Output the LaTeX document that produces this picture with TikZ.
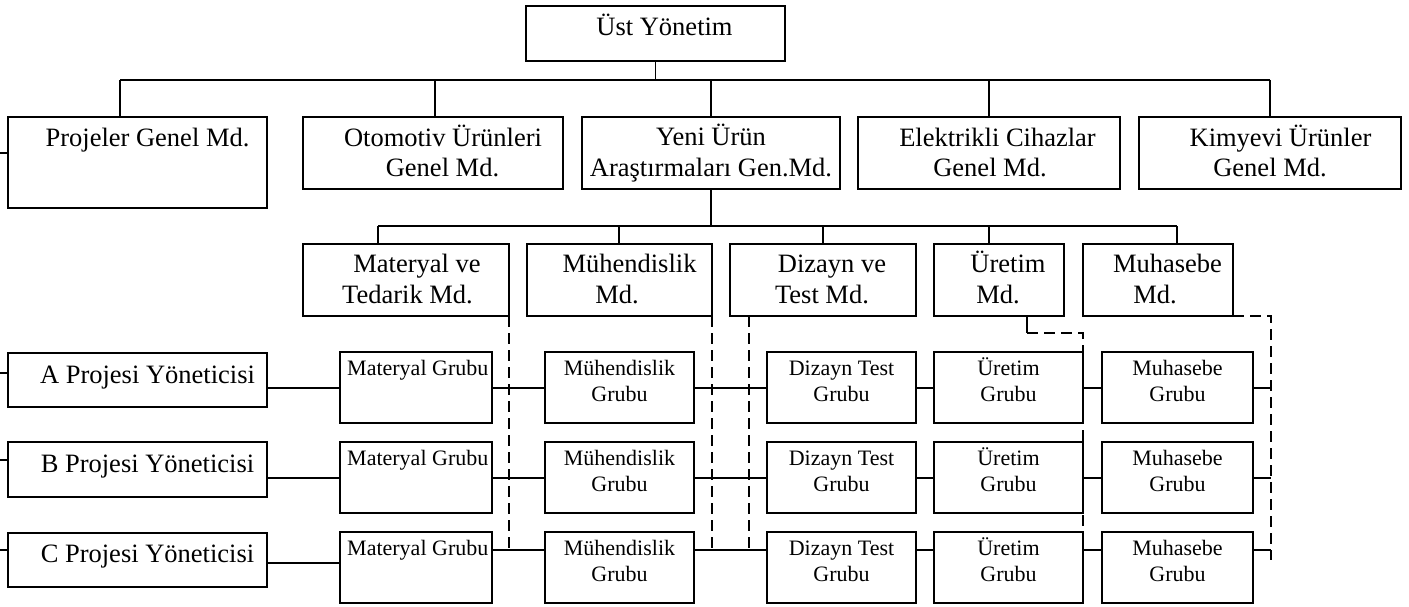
\documentclass[tikz,border=0pt]{standalone}
\usepackage{fontspec}
\setmainfont{Liberation Serif}
\begin{document}
\begin{tikzpicture}[x=1pt,y=-1pt,
  box/.style={draw,line width=1.7pt,inner sep=0pt,outer sep=0pt},
  ln/.style={line width=1.7pt},
  dsh/.style={line width=1.7pt,dash pattern=on 11pt off 6pt},
  big/.style={inner sep=0pt,anchor=base,font=\fontsize{26.5}{32}\selectfont},
  small/.style={inner sep=0pt,anchor=base,font=\fontsize{22}{26}\selectfont}]
\useasboundingbox (0,0) rectangle (1409,607);

% rectangle from (x1,y1) to (x2,y2)
\newcommand\orgbox[5]{\node[box,minimum width={(#4-#2)*1pt},minimum height={(#5-#3)*1pt}] (#1) at ({(#2+#4)/2},{(#3+#5)/2}) {};}

% top level
\orgbox{top}{526}{6}{785}{61}
\node[big] (ttop) at (664.5,36) {Üst Yönetim};

% general directorates
\orgbox{proj}{8}{117}{267}{208}
\orgbox{oto}{303}{117}{563}{189}
\orgbox{yeni}{582}{117}{840}{189}
\orgbox{elek}{858}{117}{1120}{189}
\orgbox{kim}{1139}{117}{1401}{189}
\node[big] (tproj) at (147.5,147) {Projeler Genel Md.};
\node[big] (toto1) at (443,147) {Otomotiv Ürünleri};
\node[big] (toto2) at (442.5,177) {Genel Md.};
\node[big] (tyeni1) at (711,146) {Yeni Ürün};
\node[big] (tyeni2) at (711,177) {Araştırmaları Gen.Md.};
\node[big] (telek1) at (997.5,147) {Elektrikli Cihazlar};
\node[big] (telek2) at (990,177) {Genel Md.};
\node[big] (tkim1) at (1280.5,147) {Kimyevi Ürünler};
\node[big] (tkim2) at (1270,177) {Genel Md.};

% departments
\orgbox{mat}{303}{244}{509}{316}
\orgbox{muh}{527}{244}{712}{316}
\orgbox{diz}{730}{244}{916}{316}
\orgbox{ure}{934}{244}{1064}{316}
\orgbox{mhs}{1083}{244}{1233}{316}
\node[big] (tmat1) at (417,272) {Materyal ve};
\node[big] (tmat2) at (407.5,303) {Tedarik Md.};
\node[big] (tmuh1) at (629.5,272) {Mühendislik};
\node[big] (tmuh2) at (617,303) {Md.};
\node[big] (tdiz1) at (832,272) {Dizayn ve};
\node[big] (tdiz2) at (822,303) {Test Md.};
\node[big] (ture1) at (1008,272) {Üretim};
\node[big] (ture2) at (998,303) {Md.};
\node[big] (tmhs1) at (1167.5,272) {Muhasebe};
\node[big] (tmhs2) at (1155,303) {Md.};

% project managers
\orgbox{pA}{8}{353}{267}{407}
\orgbox{pB}{8}{442}{267}{497}
\orgbox{pC}{8}{533}{267}{587}
\node[big] (tpA) at (147.5,383) {A Projesi Yöneticisi};
\node[big] (tpB) at (147.5,472) {B Projesi Yöneticisi};
\node[big] (tpC) at (147.5,562) {C Projesi Yöneticisi};

% working groups, one row per project
\foreach \r/\ya in {A/352,B/442,C/532}{
  \pgfmathsetmacro\yb{\ya+71}
  \orgbox{m\r}{340}{\ya}{492}{\yb}
  \orgbox{g\r}{545}{\ya}{694}{\yb}
  \orgbox{d\r}{767}{\ya}{916}{\yb}
  \orgbox{u\r}{934}{\ya}{1083}{\yb}
  \orgbox{h\r}{1102}{\ya}{1253}{\yb}
  \pgfmathsetmacro\yl{\ya+23}
  \pgfmathsetmacro\ym{\ya+49}
  \node[small,anchor=base west] (tm\r) at (347,\yl) {Materyal Grubu};
  \node[small] (tg\r a) at (619.5,\yl) {Mühendislik};
  \node[small] (tg\r b) at (619.5,\ym) {Grubu};
  \node[small] (td\r a) at (841.5,\yl) {Dizayn Test};
  \node[small] (td\r b) at (841.5,\ym) {Grubu};
  \node[small] (tu\r a) at (1008.5,\yl) {Üretim};
  \node[small] (tu\r b) at (1008.5,\ym) {Grubu};
  \node[small] (th\r a) at (1177.5,\yl) {Muhasebe};
  \node[small] (th\r b) at (1177.5,\ym) {Grubu};
}

% upper tree
\coordinate (d1) at (120,80);
\coordinate (d2) at (435,80);
\coordinate (d4) at (989,80);
\coordinate (d5) at (1270,80);
\draw[ln] (top.south) -- (top.south |- d1);
\draw[ln] (d1) -- (d5);
\draw[ln] (d1) -- (d1 |- proj.north);
\draw[ln] (d2) -- (d2 |- oto.north);
\draw[ln] (yeni.north |- d1) -- (yeni.north);
\draw[ln] (d4) -- (d4 |- elek.north);
\draw[ln] (d5) -- (d5 |- kim.north);

\coordinate (e1) at (378,226);
\coordinate (e2) at (619,226);
\coordinate (e3) at (823,226);
\coordinate (e4) at (989,226);
\coordinate (e5) at (1177,226);
\draw[ln] (yeni.south) -- (yeni.south |- e1);
\draw[ln] (e1) -- (e5);
\draw[ln] (e1) -- (e1 |- mat.north);
\draw[ln] (e2) -- (e2 |- muh.north);
\draw[ln] (e3) -- (e3 |- diz.north);
\draw[ln] (e4) -- (e4 |- ure.north);
\draw[ln] (e5) -- (e5 |- mhs.north);

% stubs on the left edge
\coordinate (s0) at (0,153);
\coordinate (sA) at (0,373);
\coordinate (sB) at (0,460);
\coordinate (sC) at (0,550);
\draw[ln] (s0) -- (s0 -| proj.west);
\draw[ln] (sA) -- (sA -| pA.west);
\draw[ln] (sB) -- (sB -| pB.west);
\draw[ln] (sC) -- (sC -| pC.west);

% dashed staff lines
\coordinate (hline) at (1271,316);
\coordinate (dend) at (0,548);
\draw[dsh] (mat.south east) -- (mat.south east |- dend);
\draw[dsh] (muh.south east) -- (muh.south east |- dend);
\draw[dsh] ([xshift=19pt]diz.south west) -- ([xshift=19pt]diz.south west |- dend);
\coordinate (uk) at (1027,333);
\draw[ln] (uk |- ure.south) -- (uk);
\coordinate (uend) at (1083,550);
\draw[dsh] (uk) -| (uend);
\coordinate (hend) at (1271,560);
\draw[dsh] (mhs.south east) -- (hline) -- (hend);

% row connectors
\foreach \r/\y/\yp in {A/388/388,B/478/478,C/550/563}{
  \coordinate (rr) at (0,\y);
  \coordinate (rp) at (0,\yp);
  \draw[ln] (p\r.east |- rp) -- (m\r.west |- rp);
  \draw[ln] (m\r.east |- rr) -- (g\r.west |- rr);
  \draw[ln] (g\r.east |- rr) -- (d\r.west |- rr);
  \draw[ln] (d\r.east |- rr) -- (u\r.west |- rr);
  \draw[ln] (u\r.east |- rr) -- (h\r.west |- rr);
  \draw[ln] (h\r.east |- rr) -- (hline |- rr);
}
\end{tikzpicture}
\end{document}
